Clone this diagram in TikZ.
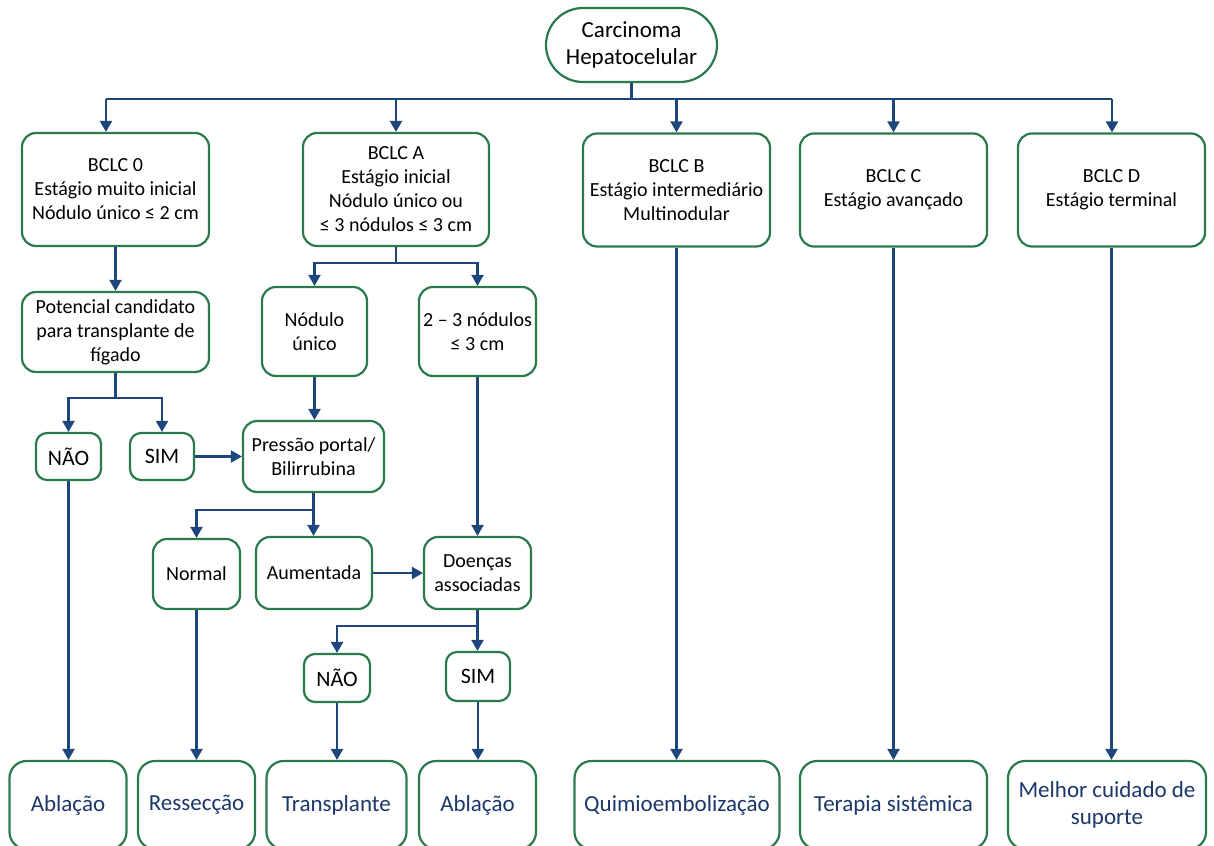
\documentclass[tikz,border=0pt]{standalone}
\usepackage{fontspec}
\setmainfont{Carlito}
\usetikzlibrary{arrows.meta}
\definecolor{boxgreen}{RGB}{42,122,76}
\definecolor{linkblue}{RGB}{30,70,125}
\definecolor{txtblue}{RGB}{28,55,105}
\newcommand{\ftop}{\fontsize{23}{27}\selectfont}
\newcommand{\fmid}{\fontsize{20}{24}\selectfont}
\newcommand{\fsmall}{\fontsize{22}{24}\selectfont}
\newcommand{\fbot}{\fontsize{23}{27}\selectfont}
\tikzset{
  box/.style={draw=boxgreen, line width=2.2pt, rounded corners=14pt, fill=white,
    align=center, inner sep=1pt, font=\fmid, text=black},
  small/.style={box, rounded corners=11pt, font=\fsmall},
  botbox/.style={box, rounded corners=17pt, font=\fbot, text=txtblue},
  conn/.style={draw=linkblue, line width=2.2pt},
  arr/.style={conn, -{Triangle[width=12pt,length=11pt]}},
}
\begin{document}
\begin{tikzpicture}[x=1pt,y=-1pt]
\useasboundingbox (0,0) rectangle (1214,845);
\clip (0,0) rectangle (1214,845);
% nodes
\node[box, rounded corners=37pt, font=\ftop, minimum width=171pt, minimum height=74pt] (top) at (631.5,45) {Carcinoma\\Hepatocelular};
\node[box, minimum width=187pt, minimum height=113pt] (b0) at (115.5,189.5) {BCLC 0\\Estágio muito inicial\\Nódulo único ≤ 2 cm};
\node[box, minimum width=186pt, minimum height=113pt] (bA) at (396,189.5) {BCLC A\\Estágio inicial\\Nódulo único ou\\≤ 3 nódulos ≤ 3 cm};
\node[box, minimum width=187pt, minimum height=113pt] (bB) at (676.5,190) {BCLC B\\Estágio intermediário\\Multinodular};
\node[box, minimum width=187pt, minimum height=113pt] (bC) at (893.5,190) {BCLC C\\Estágio avançado};
\node[box, minimum width=187pt, minimum height=113pt] (bD) at (1111.5,190) {BCLC D\\Estágio terminal};
\node[box, minimum width=187pt, minimum height=80pt] (pot) at (115.5,332) {Potencial candidato\\para transplante de\\fígado};
\node[box, minimum width=105pt, minimum height=89pt] (nod) at (314.5,331.5) {Nódulo\\único};
\node[box, minimum width=117pt, minimum height=89pt] (n23) at (477.5,331.5) {2 – 3 nódulos\\≤ 3 cm};
\node[small, minimum width=65pt, minimum height=47pt] (nao1) at (68.5,456.5) {NÃO};
\node[small, minimum width=64pt, minimum height=47pt] (sim1) at (162,456.5) {SIM};
\node[box, minimum width=141pt, minimum height=71pt] (pres) at (313.5,456.5) {Pressão portal/\\Bilirrubina};
\node[box, minimum width=87pt, minimum height=70pt] (norm) at (196.5,574) {Normal};
\node[box, minimum width=116pt, minimum height=72pt] (aum) at (314,573) {Aumentada};
\node[box, minimum width=107pt, minimum height=72pt] (doe) at (477.5,573) {Doenças\\associadas};
\node[small, minimum width=66pt, minimum height=48pt] (nao2) at (337,678) {NÃO};
\node[small, minimum width=64pt, minimum height=49pt] (sim2) at (478,676.5) {SIM};
\node[botbox, minimum width=117pt, minimum height=88pt] (abl1) at (68,805) {Ablação};
\node[botbox, minimum width=117pt, minimum height=88pt] (res) at (196.5,805) {Ressecção};
\node[botbox, minimum width=140pt, minimum height=88pt] (tra) at (336.5,805) {Transplante};
\node[botbox, minimum width=117pt, minimum height=88pt] (abl2) at (477.5,805) {Ablação};
\node[botbox, minimum width=205pt, minimum height=88pt] (qui) at (677,805) {Quimioembolização};
\node[botbox, minimum width=187pt, minimum height=88pt] (ter) at (893.5,805) {Terapia sistêmica};
\node[botbox, minimum width=198pt, minimum height=88pt] (mel) at (1107,805) {Melhor cuidado de\\suporte};
% connectors
\coordinate (bus) at (631.5,99);
\coordinate (j0) at (106,99);
\coordinate (jD) at (1112,99);
\draw[conn] (top.south) -- (bus);
\draw[conn] (j0) -- (jD);
\draw[arr] (j0) -- (j0 |- b0.north);
\draw[arr] (bA.north |- bus) -- (bA.north);
\draw[arr] (bB.north |- bus) -- (bB.north);
\draw[arr] (bC.north |- bus) -- (bC.north);
\draw[arr] (jD) -- (jD |- bD.north);
\draw[arr] (b0.south) -- (pot.north);
\coordinate (jp) at (115.5,398);
\draw[conn] (pot.south) -- (jp);
\draw[arr] (jp) -| (nao1.north);
\draw[arr] (jp) -| (sim1.north);
\coordinate (ja) at (396,263);
\draw[conn] (bA.south) -- (ja);
\draw[arr] (ja) -| (nod.north);
\draw[arr] (ja) -| (n23.north);
\draw[arr] (nod.south) -- (nod.south |- pres.north);
\draw[arr] (sim1.east) -- (sim1.east -| pres.west);
\coordinate (jr) at (313.5,510);
\draw[conn] (pres.south) -- (jr);
\draw[arr] (jr) -- (jr |- aum.north);
\draw[arr] (jr) -| (norm.north);
\draw[arr] (aum.east) -- (aum.east -| doe.west);
\draw[arr] (n23.south) -- (doe.north);
\coordinate (jd) at (477.5,626);
\draw[conn] (doe.south) -- (jd);
\draw[arr] (jd) -| (nao2.north);
\draw[arr] (jd) -- (jd |- sim2.north);
\draw[arr] (nao1.south) -- (nao1.south |- abl1.north);
\draw[arr] (norm.south) -- (norm.south |- res.north);
\draw[arr] (nao2.south) -- (nao2.south |- tra.north);
\draw[arr] (sim2.south) -- (sim2.south |- abl2.north);
\draw[arr] (bB.south) -- (bB.south |- qui.north);
\draw[arr] (bC.south) -- (bC.south |- ter.north);
\draw[arr] (bD.south) -- (bD.south |- mel.north);
\end{tikzpicture}
\end{document}
